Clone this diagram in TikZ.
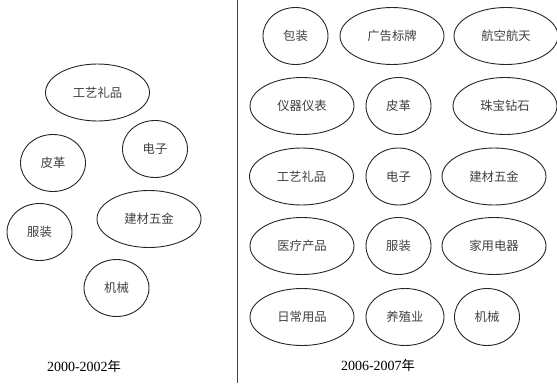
\documentclass[tikz,border=0pt]{standalone}
\usepackage{fontspec}
\setmainfont{Liberation Serif}
\newfontfamily\cjk{Noto Sans CJK SC}[Scale=0.95]
\tikzset{
  blob/.style={draw=black!85, line width=0.9pt, ellipse, inner sep=0pt, font=\cjk\fontsize{13}{13}\selectfont, text=black!75},
  small/.style={blob, minimum width=65pt, minimum height=57pt},
  wide/.style={blob, minimum width=104pt, minimum height=57pt},
  yearlabel/.style={font=\fontsize{14}{14}\selectfont, inner sep=0pt}
}
\usetikzlibrary{shapes.geometric}
\begin{document}
\begin{tikzpicture}[x=1pt,y=-1pt]
\useasboundingbox (0,0) rectangle (557,383);
\coordinate (divtop) at (237.5,0);
\coordinate (divbot) at (237.5,383);
\draw[line width=1.3pt, black!75] (divtop) -- (divbot);
% left panel
\node[wide]  (l1) at (97.5,92.5) {工艺礼品};
\node[small] (l2) at (155,149) {电子};
\node[small] (l3) at (53,163) {皮革};
\node[small] (l4) at (39.5,232) {服装};
\node[wide]  (l5) at (149,219) {建材五金};
\node[small] (l6) at (116.5,288) {机械};
\node[yearlabel] (ly) at (84,366) {2000-2002{\cjk 年}};
% right panel row 1
\node[small] (r11) at (295.5,36) {包装};
\node[wide]  (r12) at (392,36) {广告标牌};
\node[wide]  (r13) at (506,36) {航空航天};
% row 2
\node[wide]  (r21) at (302,106) {仪器仪表};
\node[small] (r22) at (398.5,106) {皮革};
\node[wide]  (r23) at (505,106) {珠宝钻石};
% row 3
\node[wide]  (r31) at (301.5,176.5) {工艺礼品};
\node[small] (r32) at (398.5,176.5) {电子};
\node[wide]  (r33) at (494,176.5) {建材五金};
% row 4
\node[wide]  (r41) at (302,246) {医疗产品};
\node[small] (r42) at (398.5,246) {服装};
\node[wide]  (r43) at (494,246) {家用电器};
% row 5
\node[wide]  (r51) at (302,317) {日常用品};
\node[blob, minimum width=78pt, minimum height=57pt] (r52) at (405,317) {养殖业};
\node[small] (r53) at (487,317) {机械};
\node[yearlabel] (ry) at (378,365) {2006-2007{\cjk 年}};
\end{tikzpicture}
\end{document}
